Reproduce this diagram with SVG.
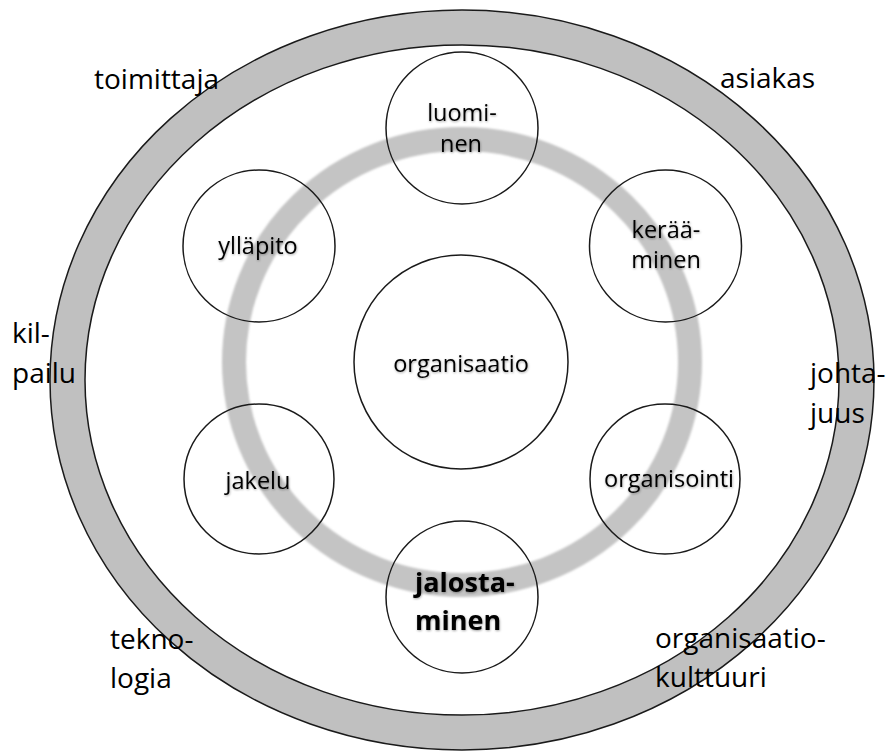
<svg xmlns="http://www.w3.org/2000/svg" width="887" height="753" viewBox="0 0 887 753">
<style>
.ring{fill:#c0c0c0;stroke:#1a1a1a;stroke-width:1.5;fill-rule:evenodd}
.band{fill:none;stroke:#c4c4c4;stroke-width:24}
.node{fill:none;stroke:#1a1a1a;stroke-width:1.5}
.lbl{font-family:"Open Sans","Liberation Sans",sans-serif;font-size:28px;fill:#000}
.nt{font-family:"Open Sans","Liberation Sans",sans-serif;font-size:23.5px;fill:#000;text-anchor:middle}
.bt{font-family:"Open Sans","Liberation Sans",sans-serif;font-size:27px;font-weight:bold;fill:#000}
</style>
<defs>
<filter id="soft" x="-10%" y="-10%" width="120%" height="120%"><feGaussianBlur stdDeviation="0.8"/></filter>
<filter id="sh" x="-10%" y="-20%" width="120%" height="140%"><feDropShadow dx="0.5" dy="1" stdDeviation="0.8" flood-color="#000" flood-opacity="0.35"/></filter>
</defs>
<rect width="887" height="753" fill="#fff"/>
<g id="outer-ring">
<path class="ring" d="M50,380 a412,370 0 1,0 824,0 a412,370 0 1,0 -824,0 Z M85,380 a377,335 0 1,0 754,0 a377,335 0 1,0 -754,0 Z"/>
</g>
<g id="inner-ring">
<ellipse class="band" cx="462" cy="362" rx="228" ry="223" filter="url(#soft)"/>
</g>
<g id="connectors"></g>
<g id="organisaatio">
<circle class="node" cx="461" cy="362" r="107"/>
<text class="nt" x="461" y="372" filter="url(#sh)">organisaatio</text>
</g>
<g id="luominen">
<circle class="node" cx="462" cy="128" r="76"/>
<text class="nt" x="462" y="121" filter="url(#sh)">luomi-</text>
<text class="nt" x="461" y="152" filter="url(#sh)">nen</text>
</g>
<g id="keraaminen">
<circle class="node" cx="665.5" cy="246" r="76"/>
<text class="nt" x="666" y="238" filter="url(#sh)">kerää-</text>
<text class="nt" x="666" y="268" filter="url(#sh)">minen</text>
</g>
<g id="organisointi">
<circle class="node" cx="665" cy="479" r="75"/>
<text class="nt" x="669" y="487" filter="url(#sh)">organisointi</text>
</g>
<g id="jalostaminen">
<circle class="node" cx="462" cy="597" r="76"/>
<text class="bt" x="415" y="592" filter="url(#sh)">jalosta-</text>
<text class="bt" x="415" y="630" filter="url(#sh)">minen</text>
</g>
<g id="jakelu">
<circle class="node" cx="259" cy="479" r="75"/>
<text class="nt" x="258" y="489" filter="url(#sh)">jakelu</text>
</g>
<g id="yllapito">
<circle class="node" cx="259" cy="246" r="76"/>
<text class="nt" x="258" y="254" filter="url(#sh)">ylläpito</text>
</g>
<g id="toimittaja"><text class="lbl" x="94" y="89">toimittaja</text></g>
<g id="asiakas"><text class="lbl" x="720" y="88">asiakas</text></g>
<g id="kilpailu"><text class="lbl" x="12" y="343">kil-</text><text class="lbl" x="12" y="383">pailu</text></g>
<g id="johtajuus"><text class="lbl" x="810" y="383">johta-</text><text class="lbl" x="810" y="423">juus</text></g>
<g id="teknologia"><text class="lbl" x="110" y="649">tekno-</text><text class="lbl" x="110" y="688">logia</text></g>
<g id="organisaatiokulttuuri"><text class="lbl" x="655" y="648">organisaatio-</text><text class="lbl" x="655" y="687">kulttuuri</text></g>
</svg>
